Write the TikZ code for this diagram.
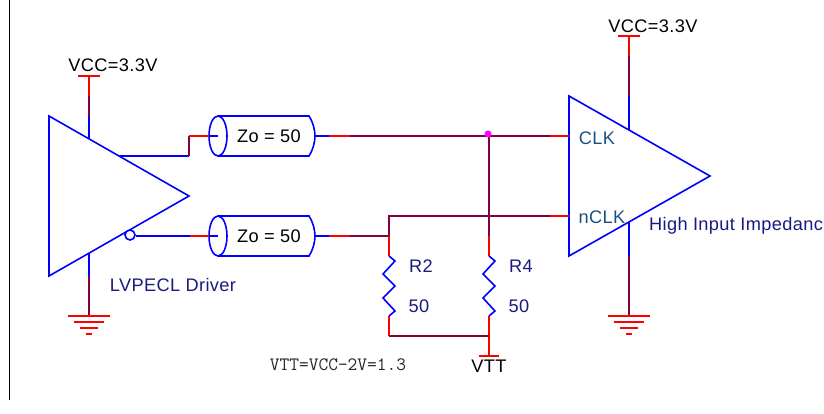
\documentclass[tikz,border=0pt]{standalone}
\usepackage{fontspec}
\setmainfont[LetterSpace=2]{Liberation Sans}
\usetikzlibrary{shapes.geometric, arrows}
\definecolor{wirepurple}{RGB}{128,0,64}
\definecolor{labelnavy}{RGB}{26,26,128}
\definecolor{pinteal}{RGB}{26,80,128}
\definecolor{dotpink}{RGB}{255,0,255}
\tikzstyle{part} = [draw=blue, line width=1.6pt, line join=miter]
\tikzstyle{stub} = [draw=red, line width=1.6pt]
\tikzstyle{wire} = [draw=wirepurple, line width=1.6pt]
\tikzstyle{txt} = [inner sep=0pt, font=\fontsize{18.2}{20}\selectfont]
\tikzstyle{netname} = [txt, text=black]
\tikzstyle{partname} = [txt, text=labelnavy]
\tikzstyle{pinname} = [txt, text=pinteal]

\begin{document}
\begin{tikzpicture}[x=1pt, y=-1pt]
    \useasboundingbox (0,0) rectangle (824,414);
    \draw[line width=1.2pt] (9.5,0) -- (9.5,400);

    % points of the schematic
    \foreach \name/\x/\y in {
        drvtop/49/116, drvbot/49/276, drvtip/189/196,
        rcvtop/569/96, rcvbot/569/256, rcvtip/710/176,
        vcca/89/76, vccb/89/96, vccc/89/116, vccd/89/139,
        gnda/89/253, gndb/89/276, gndc/89/316,
        vrca/629/36, vrcb/629/56, vrcc/629/96, vrcd/629/130,
        grca/629/222, grcb/629/256, grcc/629/316,
        outa/119/156, outb/189/156, outc/189/136, outd/209/136, oute/218/136,
        nota/136/236, notb/190/236, notc/209/236, notd/218/236,
        cka/315/136, ckb/329/136, ckc/350/136, ckd/550/136, cke/569/136,
        nka/315/236, nkb/329/236, nkc/350/236, nkd/389/236, nke/389/216,
        nkf/550/216, nkg/569/216,
        jct/489/135, rfa/489/236, rfb/489/256, rfc/489/316, rfd/489/336, rfe/489/356,
        rta/389/256, rtb/389/316, rtc/389/336} {
        \coordinate (\name) at (\x,\y);
    }

    % drivers
    \draw[part] (drvtop) -- (drvbot) -- (drvtip) -- cycle;
    \draw[part] (rcvtop) -- (rcvbot) -- (rcvtip) -- cycle;
    \node[circle, draw=blue, line width=1.6pt, fill=white, minimum size=10pt, inner sep=0pt] (bubble) at (130,235) {};

    % power and ground
    \foreach \a/\b/\c/\d/\gx/\gy in {gnda/gndb/gndc/gndc/89/316, grca/grcb/grcc/grcc/629/316} {
        \draw[part] (\a) -- (\b);
        \draw[wire] (\b) -- (\c);
        \draw[stub] (\gx-21,\gy) -- (\gx+21,\gy);
        \draw[stub] (\gx-15,\gy+6) -- (\gx+15,\gy+6);
        \draw[stub] (\gx-9,\gy+12) -- (\gx+9,\gy+12);
        \draw[stub] (\gx-3,\gy+18) -- (\gx+3,\gy+18);
    }
    \foreach \a/\b/\c/\d in {vcca/vccb/vccc/vccd, vrca/vrcb/vrcc/vrcd} {
        \draw[stub] (\a) -- (\b);
        \draw[wire] (\b) -- (\c);
        \draw[part] (\c) -- (\d);
        \draw[stub] ([xshift=-11pt]\a) -- ([xshift=11pt]\a);
    }

    % transmission lines
    \foreach \y/\lbl in {136/zoa, 236/zob} {
        \draw[part] (218,\y) ellipse (9 and 20);
        \draw[part] (218,\y-20) -- (309,\y-20) .. controls (313,\y-14) and (315,\y-6) .. (315,\y)
            .. controls (315,\y+6) and (313,\y+14) .. (309,\y+20) -- (218,\y+20);
        \node[netname] (\lbl) at (269,\y) {Zo = 50};
    }

    % upper line
    \draw[part] (outa) -- (outb);
    \draw[wire] (outb) -- (outc);
    \draw[stub] (outc) -- (outd);
    \draw[part] (outd) -- (oute);
    \draw[part] (cka) -- (ckb);
    \draw[stub] (ckb) -- (ckc);
    \draw[wire] (ckc) -- (ckd);
    \draw[stub] (ckd) -- (cke);

    % lower line
    \draw[part] (nota) -- (notb);
    \draw[stub] (notb) -- (notc);
    \draw[part] (notc) -- (notd);
    \draw[part] (nka) -- (nkb);
    \draw[stub] (nkb) -- (nkc);
    \draw[wire] (nkc) -- (nkd) -- (nke) -- (nkf);
    \draw[stub] (nkf) -- (nkg);

    % termination
    \draw[wire] (jct) -- (rfa);
    \draw[stub] (rfa) -- (rfb);
    \draw[stub] (rfc) -- (rfe);
    \draw[stub] (479,356) -- (499,356);
    \draw[stub] (nkd) -- (rta);
    \draw[stub] (rtb) -- (rtc);
    \draw[wire] (rtc) -- (rfd);
    \foreach \s/\e/\x in {rta/rtb/389, rfb/rfc/489} {
        \draw[part] (\s) -- (\x+6,261) -- (\x-6,274) -- (\x+6,286) -- (\x-6,298) -- (\x+6,311) -- (\e);
    }
    \node[circle, fill=dotpink, minimum size=7pt, inner sep=0pt] (dot) at (488,134) {};

    % labels
    \node[netname] (vccl) at (113,65) {VCC=3.3V};
    \node[netname] (vccr) at (653,26) {VCC=3.3V};
    \node[netname] (vtt) at (489,366) {VTT};
    \node[partname] (drvname) at (173,285) {LVPECL Driver};
    \node[partname] (rcvname) at (736,226) {High Input Impedanc};
    \node[pinname] (clk) at (597,138) {CLK};
    \node[pinname] (nclk) at (602,217) {nCLK};
    \node[partname] (rtwo) at (421,266) {R2};
    \node[partname] (rfour) at (521,266) {R4};
    \node[partname] (rtwoval) at (419,306) {50};
    \node[partname] (rfourval) at (519,306) {50};
    \node[inner sep=0pt, text=black!85, font=\ttfamily\fontsize{18.9}{20}\selectfont] (vttnote) at (338,365) {VTT=VCC-2V=1.3};
\end{tikzpicture}
\end{document}
